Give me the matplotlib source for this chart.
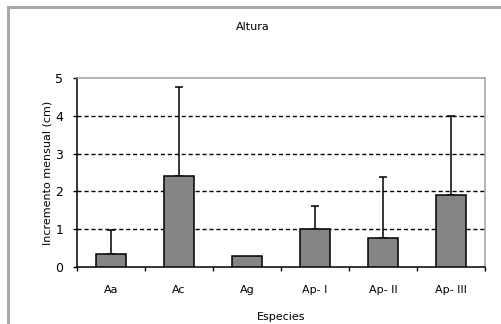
import numpy as np
import matplotlib.pyplot as plt
from matplotlib.patches import Rectangle

species = ['Aa', 'Ac', 'Ag', 'Ap- I', 'Ap- II', 'Ap- III']
means = [0.34, 2.42, 0.29, 1.00, 0.76, 1.91]
err_up = [0.63, 2.35, 0.0, 0.61, 1.62, 2.09]

fig = plt.figure(figsize=(5.01, 3.24), dpi=100)
plt.rcParams['font.family'] = ['DejaVu Sans']

# gray outer frame (top and left visible)
fig.patches.append(Rectangle((8 / 501, -0.1), 1.2, 1 - 7 / 324 + 0.1,
                             transform=fig.transFigure, fill=False,
                             edgecolor='#a8a8a8', linewidth=2.2))

ax = fig.add_axes([77 / 501, 1 - 267 / 324, (485 - 77) / 501, (267 - 78) / 324])

x = np.arange(len(species))
ax.bar(x, means, width=0.43, color='#858585', edgecolor='black', linewidth=1.1, zorder=3)
yerr = np.array([np.zeros(len(err_up)), err_up])
mask = np.array(err_up) > 0
ax.errorbar(x[mask], np.array(means)[mask], yerr=yerr[:, mask], fmt='none',
            ecolor='black', elinewidth=1.1, capsize=3.2, capthick=1.1, zorder=2)

ax.set_ylim(0, 5)
ax.set_xlim(-0.5, len(species) - 0.5)
ax.set_yticks([0, 1, 2, 3, 4, 5])
ax.set_xticks(x)
ax.set_xticklabels(species, fontsize=8)
ax.tick_params(axis='x', length=0, pad=13)
ax.set_xticks(np.arange(-0.5, len(species)), minor=True)
ax.tick_params(axis='x', which='minor', length=3, width=1, direction='out')
ax.tick_params(axis='y', labelsize=9, length=3, width=1, direction='out', pad=7)

for v in [1, 2, 3, 4]:
    ax.axhline(v, color='black', linestyle=(0, (3, 2)), linewidth=1, zorder=1)

ax.spines['left'].set_color('black')
ax.spines['bottom'].set_color('black')
ax.spines['top'].set_color('#a0a0a0')
ax.spines['right'].set_color('#a0a0a0')
for s in ax.spines.values():
    s.set_linewidth(1.1)

ax.set_ylabel('Incremento mensual (cm)', fontsize=8, labelpad=2)
ax.set_xlabel('Especies', fontsize=8, labelpad=12)
fig.text(253 / 501, 1 - 27 / 324, 'Altura', fontsize=8, ha='center', va='center')

fig.savefig('out.png', dpi=100)
